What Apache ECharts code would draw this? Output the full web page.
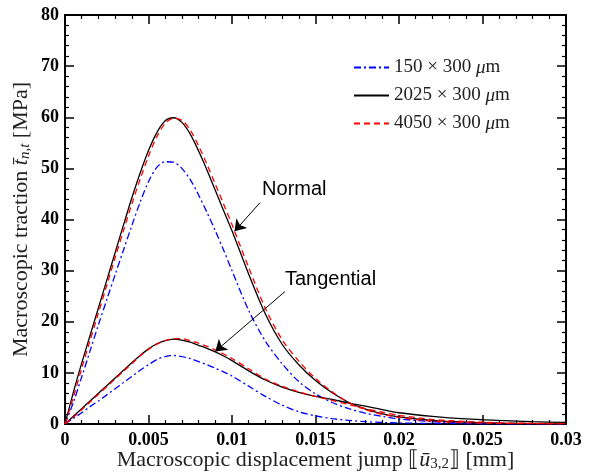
<!DOCTYPE html>
<html lang="en">
<head>
<meta charset="UTF-8">
<title>Macroscopic traction vs displacement jump</title>
<style>html,body{margin:0;padding:0;background:#fff;}</style>
</head>
<body>
<div id="chart" style="width:597px;height:472px;"></div>
<script src="https://cdn.jsdelivr.net/npm/echarts@6/dist/echarts.min.js"></script>
<script>
// displacement jump [mm]
var jump = [0, 0.0005, 0.001, 0.0015, 0.002, 0.0025, 0.003, 0.0035, 0.004, 0.0045,
  0.005, 0.0055, 0.006, 0.0065, 0.007, 0.0075, 0.008, 0.0085, 0.009, 0.0095,
  0.01, 0.011, 0.012, 0.013, 0.014, 0.015, 0.016, 0.017, 0.018, 0.019,
  0.02, 0.022, 0.024, 0.026, 0.028, 0.03];

// normal traction [MPa]
var normal150 = [0, 4.2, 9.2, 14.3, 19.4, 24.3, 29.2, 34.0, 38.8, 43.4,
  47.4, 50.2, 51.3, 51.2, 50.0, 47.8, 44.8, 41.4, 37.8, 34.0,
  30.0, 22.2, 16.2, 11.8, 8.3, 5.9, 4.2, 3.0, 2.1, 1.5,
  1.0, 0.45, 0.2, 0.1, 0.05, 0.02];
var normal2025 = [0, 6.2, 11.9, 17.3, 22.7, 28.1, 33.5, 38.9, 44.2, 49.1,
  53.5, 57.0, 59.3, 59.9, 59.0, 56.7, 53.4, 49.7, 45.7, 41.7,
  37.8, 29.3, 21.5, 15.6, 11.6, 8.5, 6.1, 4.2, 2.9, 2.0,
  1.4, 0.7, 0.35, 0.18, 0.1, 0.05];
var normal4050 = [0, 5.2, 10.9, 16.3, 21.7, 27.1, 32.5, 37.8, 43.0, 47.9,
  52.4, 56.2, 58.8, 59.8, 59.4, 57.5, 54.4, 50.8, 46.9, 43.0,
  39.0, 30.6, 22.6, 16.5, 12.3, 8.9, 6.3, 4.2, 2.8, 1.9,
  1.3, 0.55, 0.25, 0.12, 0.06, 0.03];

// tangential traction [MPa]
var tang150 = [0, 1.1, 2.2, 3.4, 4.5, 5.7, 6.9, 8.1, 9.3, 10.5,
  11.6, 12.6, 13.2, 13.4, 13.2, 12.8, 12.2, 11.6, 10.9, 10.2,
  9.4, 7.4, 5.4, 3.7, 2.4, 1.6, 1.05, 0.7, 0.45, 0.3,
  0.2, 0.1, 0.05, 0.02, 0.01, 0.0];
var tang2025 = [0, 1.5, 3.0, 4.5, 6.0, 7.5, 9.0, 10.5, 12.0, 13.4,
  14.7, 15.7, 16.3, 16.6, 16.4, 16.0, 15.4, 14.8, 14.1, 13.3,
  12.4, 10.4, 8.6, 7.2, 6.2, 5.4, 4.8, 4.1, 3.5, 2.8,
  2.2, 1.5, 1.0, 0.7, 0.45, 0.3];
var tang4050 = [0, 1.3, 2.8, 4.3, 5.8, 7.3, 8.8, 10.3, 11.8, 13.3,
  14.6, 15.6, 16.3, 16.7, 16.7, 16.3, 15.8, 15.2, 14.5, 13.7,
  12.8, 10.8, 8.8, 7.4, 6.3, 5.4, 4.6, 3.8, 3.0, 2.3,
  1.7, 0.9, 0.5, 0.25, 0.12, 0.06];

var legendNames = ['150 × 300 μm', '2025 × 300 μm', '4050 × 300 μm'];
var colors = ['#0000ff', '#000000', '#ff0000'];
var dashes = [[7, 3, 2, 3], 'solid', [6, 4]];

function pairs(ys) {
  return jump.map(function (x, i) { return [x, ys[i]]; });
}

var serif = '"Liberation Serif", "DejaVu Serif", serif';
var sans = '"Liberation Sans", Arial, sans-serif';

function curve(name, ys, k) {
  return {
    name: name,
    type: 'line',
    data: pairs(ys),
    smooth: 0.3,
    symbol: 'none',
    showSymbol: false,
    z: k === 2 ? 4 : (k === 1 ? 3 : 2),
    lineStyle: { color: colors[k], width: 1.3, type: dashes[k] },
    itemStyle: { color: colors[k] }
  };
}

var axisCommon = {
  type: 'value',
  axisLine: { show: true, onZero: false, lineStyle: { color: '#000', width: 2 } },
  axisTick: { show: true, inside: true, length: 9, lineStyle: { color: '#000', width: 1.5 } },
  minorTick: { show: true, splitNumber: 5, length: 4, lineStyle: { color: '#000', width: 1.2 } },
  splitLine: { show: false }
};

var chart = echarts.init(document.getElementById('chart'));
chart.setOption({
  animation: false,
  grid: { left: 65, right: 31, top: 15, bottom: 48, containLabel: false, outerBoundsMode: 'none' },
  legend: {
    data: legendNames,
    orient: 'vertical',
    left: 348,
    top: 53,
    itemWidth: 35,
    itemHeight: 12,
    itemGap: 9,
    itemStyle: { opacity: 0 },
    formatter: function (n) {
      var p = n.split('μ');
      return '{n|' + p[0] + '}{i|μ}{n|' + p[1] + '}';
    },
    textStyle: {
      rich: {
        n: { fontFamily: serif, fontSize: 19, color: '#222' },
        i: { fontFamily: serif, fontSize: 19, fontStyle: 'italic', color: '#222' }
      }
    }
  },
  xAxis: [
    Object.assign({}, axisCommon, {
      min: 0, max: 0.03, interval: 0.005, position: 'bottom',
      name: '{n|Macroscopic displacement jump ⟦}{i|ū}{s|3,2}{n|⟧ [mm]}',
      nameLocation: 'middle', nameGap: 24, nameMoveOverlap: false,
      nameTextStyle: {
        rich: {
          n: { fontFamily: serif, fontSize: 22, color: '#222' },
          i: { fontFamily: serif, fontSize: 22, fontStyle: 'italic', color: '#222' },
          s: { fontFamily: serif, fontSize: 15, color: '#222', padding: [9, 0, 0, 0] }
        }
      },
      axisLabel: {
        margin: 7, color: '#000', fontFamily: serif, fontWeight: 'bold', fontSize: 18,
        formatter: function (v) { return v === 0 ? '0' : String(+v.toFixed(3)); }
      }
    }),
    Object.assign({}, axisCommon, {
      min: 0, max: 0.03, interval: 0.005, position: 'top', axisLabel: { show: false }
    })
  ],
  yAxis: [
    Object.assign({}, axisCommon, {
      min: 0, max: 80, interval: 10, position: 'left',
      name: '{n|Macroscopic traction }{i|t\u0304}{s|n,t}{n| [MPa]}',
      nameLocation: 'middle', nameGap: 32, nameMoveOverlap: false,
      nameTextStyle: {
        rich: {
          n: { fontFamily: serif, fontSize: 22, color: '#222' },
          i: { fontFamily: serif, fontSize: 22, fontStyle: 'italic', color: '#222' },
          s: { fontFamily: serif, fontSize: 15, fontStyle: 'italic', color: '#222', padding: [9, 0, 0, 0] }
        }
      },
      axisLabel: { margin: 6, color: '#000', fontFamily: serif, fontWeight: 'bold', fontSize: 18 }
    }),
    Object.assign({}, axisCommon, {
      min: 0, max: 80, interval: 10, position: 'right', axisLabel: { show: false }
    })
  ],
  series: [
    curve(legendNames[0], normal150, 0),
    curve(legendNames[1], normal2025, 1),
    curve(legendNames[2], normal4050, 2),
    curve(legendNames[0], tang150, 0),
    curve(legendNames[1], tang2025, 1),
    curve(legendNames[2], tang4050, 2),
    {
      name: 'notes',
      type: 'line',
      data: [],
      silent: true,
      markLine: {
        silent: true,
        symbol: ['none', 'arrow'],
        symbolSize: 11,
        label: { show: false },
        lineStyle: { color: '#000', width: 1, type: 'solid' },
        data: [
          [{ coord: [0.01168, 43.3] }, { coord: [0.01015, 37.7] }],
          [{ coord: [0.01317, 25.9] }, { coord: [0.00900, 14.2] }]
        ]
      },
      markPoint: {
        symbol: 'circle',
        symbolSize: 0,
        label: {
          show: true, position: 'right', distance: 0,
          formatter: '{b}', color: '#000', fontFamily: sans, fontSize: 20
        },
        data: [
          { name: 'Normal', coord: [0.0118, 45.8] },
          { name: 'Tangential', coord: [0.01317, 28.2] }
        ]
      }
    }
  ]
});
</script>
</body>
</html>
